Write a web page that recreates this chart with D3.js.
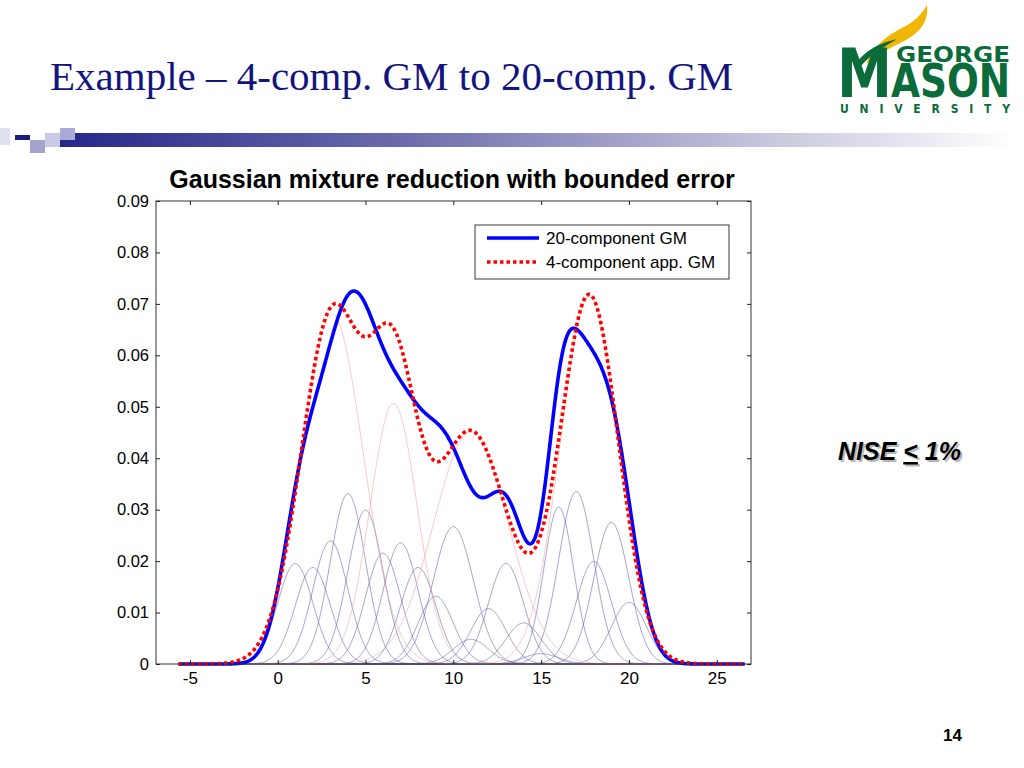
<!DOCTYPE html>
<html lang="en">
<head>
<meta charset="UTF-8">
<title>Example – 4-comp. GM to 20-comp. GM</title>
<script src="https://d3js.org/d3.v7.min.js"></script>
<style>
  html, body { margin: 0; padding: 0; background: #fff; }
  svg { display: block; }
  .axis text { font-family: "Liberation Sans", Arial, sans-serif; fill: #000; }
  .axis line { stroke: #222; }
  .axis path { display: none; }
</style>
</head>
<body>
<div id="slide"></div>
<script>
  // 20-component GM: means, mixture weights, std devs
  const compMeans   = [1, 2, 3, 4, 5, 6, 7, 8, 9, 10, 11, 12, 13, 14, 15, 16, 17, 18, 19, 20];
  const compWeights = [0.049, 0.047, 0.060, 0.083, 0.075, 0.054, 0.059, 0.047, 0.033, 0.077,
                       0.012, 0.027, 0.049, 0.020, 0.005, 0.065, 0.084, 0.050, 0.069, 0.030];
  const compSigmas  = [1, 1, 1, 1, 1, 1, 1, 1, 1, 1.15, 1, 1, 1, 1, 1, 0.85, 1, 1, 1, 1];

  // 4-component approximation (red dotted)
  const appMeans   = [3.1, 6.6, 11.0, 17.75];
  const appWeights = [0.300, 0.170, 0.240, 0.296];
  const appSigmas  = [1.76, 1.34, 2.12, 1.65];

  const xTicks = [-5, 0, 5, 10, 15, 20, 25];
  const yTicks = [0, 0.01, 0.02, 0.03, 0.04, 0.05, 0.06, 0.07, 0.08, 0.09];
  const xRange = [-5.65, 26.6];   // span of the plotted curves

  const W = 1024, H = 768;
  const svg = d3.select("#slide").append("svg")
    .attr("width", W).attr("height", H)
    .attr("viewBox", `0 0 ${W} ${H}`);

  // ---------- slide header ----------
  svg.append("text")
    .attr("x", 50).attr("y", 90)
    .style("font-family", "'Liberation Serif', 'Times New Roman', serif")
    .style("font-size", "41px")
    .style("fill", "#14147f")
    .text("Example – 4-comp. GM to 20-comp. GM");

  // decorative bar
  const defs = svg.append("defs");
  const grad = defs.append("linearGradient").attr("id", "barGrad")
    .attr("x1", "0%").attr("x2", "100%");
  grad.append("stop").attr("offset", "0%").attr("stop-color", "#26268a");
  grad.append("stop").attr("offset", "35%").attr("stop-color", "#6a6aaa");
  grad.append("stop").attr("offset", "75%").attr("stop-color", "#c8c8de");
  grad.append("stop").attr("offset", "100%").attr("stop-color", "#ffffff");
  svg.append("rect").attr("x", 60).attr("y", 133).attr("width", 955).attr("height", 14)
    .attr("fill", "url(#barGrad)");
  const squares = [
    {x: 0,  y: 128, w: 10, h: 17, c: "#dfe1ee"},
    {x: 15, y: 135, w: 15, h: 5,  c: "#1c1c80"},
    {x: 30, y: 140, w: 15, h: 13, c: "#a4a4cf"},
    {x: 45, y: 133, w: 15, h: 14, c: "#cacae6"},
    {x: 60, y: 128, w: 15, h: 12, c: "#aaaad6"}
  ];
  svg.selectAll("rect.sq").data(squares).join("rect").attr("class", "sq")
    .attr("x", d => d.x).attr("y", d => d.y).attr("width", d => d.w).attr("height", d => d.h)
    .attr("fill", d => d.c);

  // logo
  const green = "#0b6b3a", gold = "#f2b705";
  const logo = svg.append("g").style("font-family", "'DejaVu Sans Condensed', 'DejaVu Sans', sans-serif")
    .style("font-weight", "bold").style("fill", green);
  logo.append("path")
    .attr("d", "M866,64 C872,47 886,36 902,28 C914,22 922,14 927,5 C929,20 921,32 906,40 C890,48 876,55 866,64 Z")
    .attr("fill", gold);
  logo.append("path")
    .attr("d", "M857,62 C866,50 880,43 897,39 C884,47 870,55 861,66 Z")
    .attr("fill", green);
  logo.append("text").attr("x", 896).attr("y", 62).style("font-size", "21px")
    .attr("textLength", 114).attr("lengthAdjust", "spacingAndGlyphs").text("GEORGE");
  logo.append("text").attr("x", 837).attr("y", 97).style("font-size", "68px")
    .attr("textLength", 55).attr("lengthAdjust", "spacingAndGlyphs").text("M");
  logo.append("text").attr("x", 891).attr("y", 97).style("font-size", "46px")
    .attr("textLength", 119).attr("lengthAdjust", "spacingAndGlyphs").text("ASON");
  logo.append("text").attr("x", 840).attr("y", 113).style("font-size", "12px")
    .attr("textLength", 170).attr("lengthAdjust", "spacing").text("UNIVERSITY");

  // ---------- chart ----------
  const L = 156, R = 751, T = 201, B = 664;
  const x = d3.scaleLinear().domain([-6.93, 26.95]).range([L, R]);
  const y = d3.scaleLinear().domain([0, 0.09]).range([B, T]);

  const pdf = (v, m, s) => Math.exp(-(v - m) * (v - m) / (2 * s * s)) / (s * Math.sqrt(2 * Math.PI));
  const grid = d3.range(xRange[0], xRange[1] + 1e-9, 0.04);

  const line = d3.line().x(d => x(d[0])).y(d => y(d[1]));

  const comps = compMeans.map((m, i) => grid.map(v => [v, compWeights[i] * pdf(v, m, compSigmas[i])]));
  const apps = appMeans.map((m, i) => grid.map(v => [v, appWeights[i] * pdf(v, m, appSigmas[i])]));
  const total = grid.map((v, k) => [v, d3.sum(comps, c => c[k][1])]);
  const approx = grid.map((v, k) => [v, d3.sum(apps, c => c[k][1])]);

  svg.append("text")
    .attr("x", 452).attr("y", 188).attr("text-anchor", "middle")
    .style("font-family", "'Liberation Sans', Arial, sans-serif")
    .style("font-weight", "bold").style("font-size", "25px")
    .text("Gaussian mixture reduction with bounded error");

  const plot = svg.append("g");
  plot.selectAll("path.comp").data(comps).join("path").attr("class", "comp")
    .attr("d", line).attr("fill", "none")
    .attr("stroke", "#5252a4").attr("stroke-width", 0.7).attr("stroke-opacity", 0.75);
  plot.selectAll("path.app").data(apps).join("path").attr("class", "app")
    .attr("d", line).attr("fill", "none")
    .attr("stroke", "#f29a9a").attr("stroke-width", 0.7).attr("stroke-opacity", 0.75);
  plot.append("path").datum(total).attr("d", line).attr("fill", "none")
    .attr("stroke", "#0000ff").attr("stroke-width", 3.6).attr("stroke-linejoin", "round");
  plot.append("path").datum(approx).attr("d", line).attr("fill", "none")
    .attr("stroke", "#ff0000").attr("stroke-width", 3.6).attr("stroke-dasharray", "3.5 3");

  // axes box and inward ticks on all sides
  svg.append("rect").attr("x", L).attr("y", T).attr("width", R - L).attr("height", B - T)
    .attr("fill", "none").attr("stroke", "#333").attr("stroke-width", 1);

  svg.append("g").attr("class", "axis").attr("transform", `translate(0,${B})`)
    .call(d3.axisBottom(x).tickValues(xTicks).tickSizeInner(-4).tickSizeOuter(0).tickPadding(8)
      .tickFormat(d => String(d)))
    .selectAll("text").style("font-size", "17px");
  svg.append("g").attr("class", "axis").attr("transform", `translate(0,${T})`)
    .call(d3.axisTop(x).tickValues(xTicks).tickSizeInner(-4).tickSizeOuter(0).tickFormat(""));
  svg.append("g").attr("class", "axis").attr("transform", `translate(${L},0)`)
    .call(d3.axisLeft(y).tickValues(yTicks).tickSizeInner(-4).tickSizeOuter(0).tickPadding(7)
      .tickFormat(d => d === 0 ? "0" : d.toFixed(2)))
    .selectAll("text").style("font-size", "16.5px");
  svg.append("g").attr("class", "axis").attr("transform", `translate(${R},0)`)
    .call(d3.axisRight(y).tickValues(yTicks).tickSizeInner(-4).tickSizeOuter(0).tickFormat(""));

  // legend
  const legendItems = [
    {label: "20-component GM", color: "#0000ff", dash: null},
    {label: "4-component app. GM", color: "#ff0000", dash: "3.5 3"}
  ];
  const lg = svg.append("g").attr("transform", "translate(475,225)");
  lg.append("rect").attr("width", 254).attr("height", 54)
    .attr("fill", "#fff").attr("stroke", "#222").attr("stroke-width", 0.9);
  const li = lg.selectAll("g.item").data(legendItems).join("g").attr("class", "item")
    .attr("transform", (d, i) => `translate(0,${13 + i * 24})`);
  li.append("line").attr("x1", 12).attr("x2", 64)
    .attr("stroke", d => d.color).attr("stroke-width", 3.6)
    .attr("stroke-dasharray", d => d.dash);
  li.append("text").attr("x", 71).attr("dy", "0.35em")
    .style("font-family", "'Liberation Sans', Arial, sans-serif").style("font-size", "17px")
    .text(d => d.label);

  // side note with shadow
  const note = (dx, dy, col) => {
    const t = svg.append("text").attr("x", 838 + dx).attr("y", 460 + dy)
      .style("font-family", "'Liberation Sans', Arial, sans-serif")
      .style("font-weight", "bold").style("font-style", "italic").style("font-size", "25px")
      .style("fill", col);
    t.append("tspan").text("NISE ");
    t.append("tspan").style("text-decoration", "underline").text("<");
    t.append("tspan").text(" 1%");
  };
  note(2, 2, "#b8b8b8");
  note(0, 0, "#000");

  svg.append("text").attr("x", 962).attr("y", 741).attr("text-anchor", "end")
    .style("font-family", "'Liberation Sans', Arial, sans-serif")
    .style("font-weight", "bold").style("font-size", "17px")
    .text("14");
</script>
</body>
</html>
